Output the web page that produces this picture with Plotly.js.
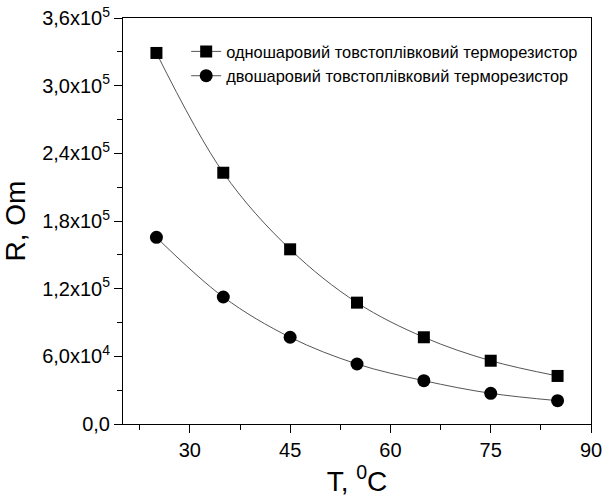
<!DOCTYPE html>
<html>
<head>
<meta charset="utf-8">
<script src="https://cdn.plot.ly/plotly-3.0.1.min.js"></script>
<style>html,body{margin:0;padding:0;background:#fff;}#chart{width:604px;height:503px;}</style>
</head>
<body>
<div id="chart"></div>
<script>
var temperature = [25, 35, 45, 55, 65, 75, 85];
var singleLayer = [329000, 222800, 154900, 107600, 76900, 56100, 42600];
var doubleLayer = [165500, 112600, 76900, 53200, 38400, 27200, 20700];
var seriesNames = ["одношаровий товстоплівковий терморезистор", "двошаровий товстоплівковий терморезистор"];
var yTickVals = [0, 60000, 120000, 180000, 240000, 300000, 360000];
var yTickText = ["0,0", "6,0x10<sup>4</sup>", "1,2x10<sup>5</sup>", "1,8x10<sup>5</sup>", "2,4x10<sup>5</sup>", "3,0x10<sup>5</sup>", "3,6x10<sup>5</sup>"];
var xTickVals = [30, 45, 60, 75, 90];

var font = "Liberation Sans, Arial, sans-serif";
var traces = [
  {x: temperature, y: singleLayer, name: seriesNames[0], mode: "lines+markers",
   line: {shape: "spline", color: "#555555", width: 1},
   marker: {symbol: "square", size: 12, color: "#000"}},
  {x: temperature, y: doubleLayer, name: seriesNames[1], mode: "lines+markers",
   line: {shape: "spline", color: "#555555", width: 1},
   marker: {symbol: "circle", size: 13, color: "#000"}}
];
var layout = {
  width: 604, height: 503,
  margin: {l: 123, r: 13, t: 18, b: 79},
  paper_bgcolor: "#fff", plot_bgcolor: "#fff",
  font: {family: font, color: "#000"},
  showlegend: true,
  legend: {x: 0.135, y: 0.96, xanchor: "left", yanchor: "top", bgcolor: "rgba(0,0,0,0)",
           font: {size: 16.4, family: font}, tracegroupgap: 0, itemwidth: 30},
  xaxis: {range: [20, 90], tickmode: "array", tickvals: xTickVals,
          ticks: "outside", ticklen: 8, tickwidth: 1, tickcolor: "#000",
          showline: true, linecolor: "#000", linewidth: 1, mirror: true,
          showgrid: false, zeroline: false,
          tickfont: {size: 20, family: font},
          minor: {dtick: 7.5, tick0: 0, ticks: "outside", ticklen: 5, tickcolor: "#000", showgrid: false},
          title: {text: "T, <sup>0</sup>C", font: {size: 28, family: font}, standoff: 8}},
  yaxis: {range: [0, 360000], tickmode: "array", tickvals: yTickVals, ticktext: yTickText,
          ticks: "outside", ticklen: 8, tickwidth: 1, tickcolor: "#000",
          showline: true, linecolor: "#000", linewidth: 1, mirror: true,
          showgrid: false, zeroline: false,
          tickfont: {size: 20, family: font},
          minor: {dtick: 30000, tick0: 0, ticks: "outside", ticklen: 5, tickcolor: "#000", showgrid: false},
          title: {text: "R, Om", font: {size: 28, family: font}, standoff: 10}}
};
Plotly.newPlot("chart", traces, layout, {displayModeBar: false, staticPlot: true});
</script>
</body>
</html>
